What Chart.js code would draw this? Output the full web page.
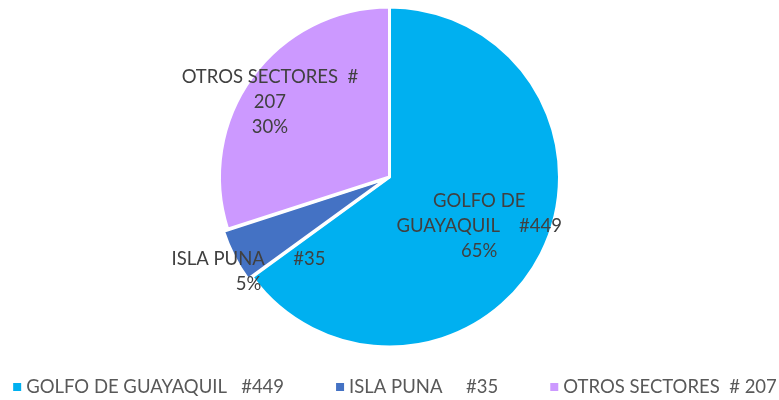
<!DOCTYPE html>
<html>
<head>
<meta charset="utf-8">
<script src="https://cdn.jsdelivr.net/npm/chart.js@4"></script>
<style>
  html, body { margin: 0; padding: 0; background: #fff; }
  #wrap { width: 779px; height: 400px; }
</style>
</head>
<body>
<div id="wrap"><canvas id="pieChart" width="779" height="400"></canvas></div>
<script>
// data
const sectors = ["GOLFO DE GUAYAQUIL   #449", "ISLA PUNA     #35", "OTROS SECTORES  # 207"];
const counts = [449, 35, 207];
const percents = ["65%", "5%", "30%"];
const sliceLabels = [
  ["GOLFO DE", "GUAYAQUIL    #449", "65%"],
  ["ISLA PUNA      #35", "5%"],
  ["OTROS SECTORES  #", "207", "30%"]
];
const colors = ["#00B0F0", "#4472C4", "#CC99FF"];

// where each in-slice label sits: fraction of radius, and a small turn off the mid angle (deg)
const labelRadius = [0.6, 1.0, 0.83];
const labelTurn = [1.5, -7, -4];
const FONT = "18.5px Lato";

const sliceLabelPlugin = {
  id: "sliceLabels",
  afterDatasetsDraw(chart) {
    const ctx = chart.ctx;
    const meta = chart.getDatasetMeta(0);
    ctx.save();
    ctx.font = FONT;
    ctx.fillStyle = "#404040";
    ctx.textAlign = "center";
    ctx.textBaseline = "middle";
    meta.data.forEach((arc, i) => {
      const p = arc.getProps(["x", "y", "startAngle", "endAngle", "outerRadius"], true);
      const mid = (p.startAngle + p.endAngle) / 2 + labelTurn[i] * Math.PI / 180;
      const r = p.outerRadius * labelRadius[i];
      const cx = p.x + Math.cos(mid) * r;
      const cy = p.y + Math.sin(mid) * r;
      const lines = sliceLabels[i];
      const lh = 25;
      const top = cy - (lines.length - 1) * lh / 2;
      lines.forEach((t, j) => ctx.fillText(t, cx, top + j * lh));
    });
    ctx.restore();
  }
};

// legend drawn by hand so that it stays on one row like the original
const bottomLegendPlugin = {
  id: "bottomLegend",
  afterDraw(chart) {
    const ctx = chart.ctx;
    ctx.save();
    ctx.font = FONT;
    ctx.textBaseline = "middle";
    ctx.textAlign = "left";
    const gap = 52, box = 8, textOff = 13;
    const widths = sectors.map((s) => textOff + ctx.measureText(s).width);
    const total = widths.reduce((a, b) => a + b, 0) + gap * (sectors.length - 1);
    let x = 395 - total / 2;
    const y = 387;
    sectors.forEach((s, i) => {
      ctx.fillStyle = colors[i];
      ctx.fillRect(x, y - box / 2, box, box);
      ctx.fillStyle = "#595959";
      ctx.fillText(s, x + textOff, y);
      x += widths[i] + gap;
    });
    ctx.restore();
  }
};

new Chart(document.getElementById("pieChart").getContext("2d"), {
  type: "pie",
  data: {
    labels: sectors,
    datasets: [{
      data: counts,
      backgroundColor: colors,
      borderColor: "#ffffff",
      borderWidth: 3,
      offset: [0, 11, 0]
    }]
  },
  options: {
    responsive: false,
    animation: false,
    layout: { padding: { top: 0, bottom: 46 } },
    plugins: {
      tooltip: { enabled: false },
      legend: { display: false }
    }
  },
  plugins: [sliceLabelPlugin, bottomLegendPlugin]
});
</script>
</body>
</html>
